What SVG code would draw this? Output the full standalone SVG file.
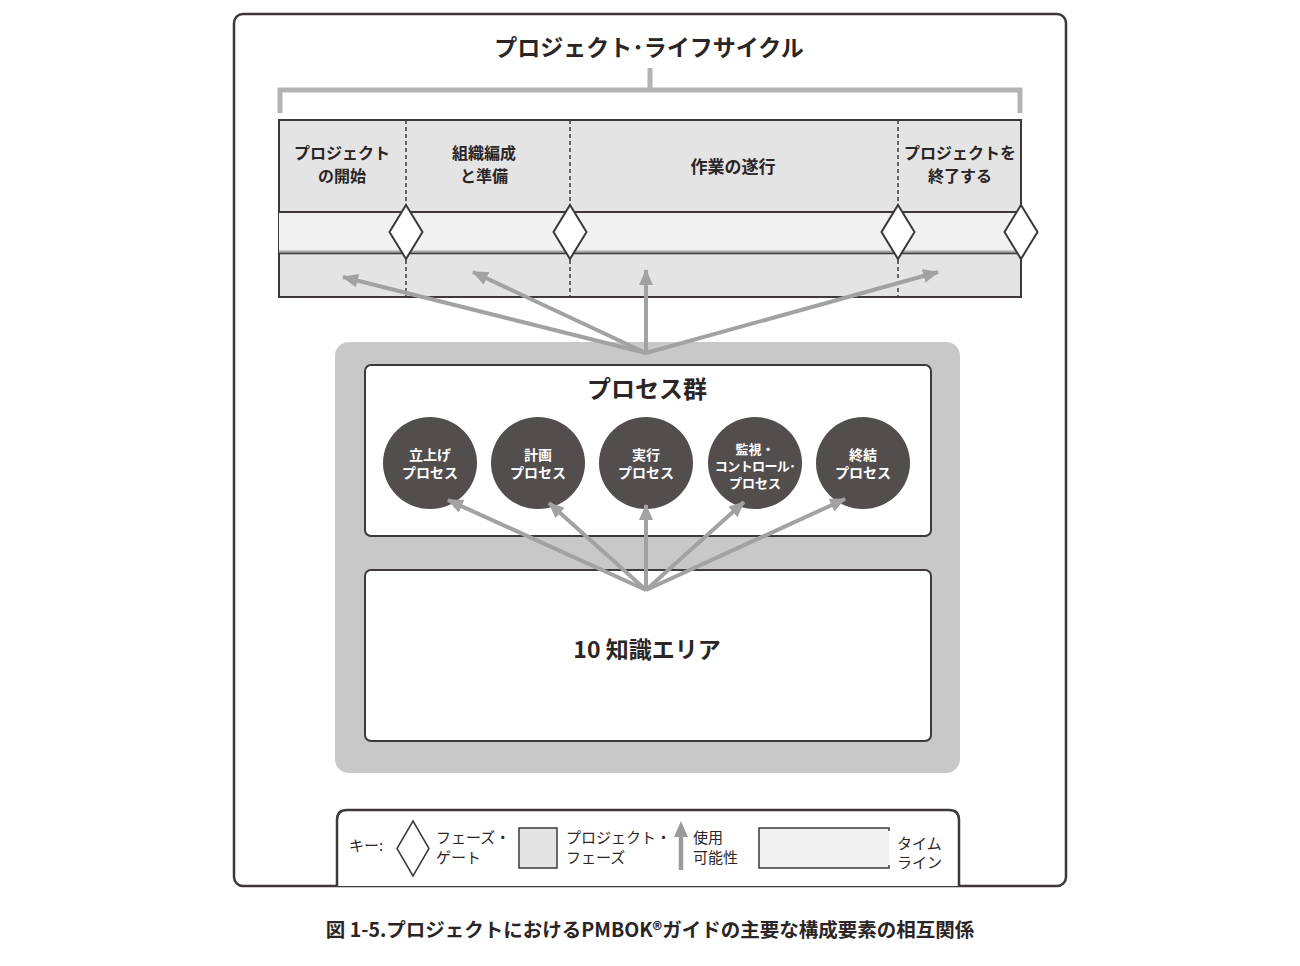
<svg xmlns="http://www.w3.org/2000/svg" width="1300" height="966" viewBox="0 0 1300 966">
<defs>
<marker id="ah" viewBox="0 0 16 14" refX="15" refY="7" markerWidth="16" markerHeight="14" markerUnits="userSpaceOnUse" orient="auto">
<path d="M0,0 L16,7 L0,14 Z" fill="#a2a2a2"/>
</marker>
<style>
text{font-family:"Noto Sans CJK JP","Noto Sans",sans-serif;font-weight:bold;fill:#2b2525;text-anchor:middle}
.dark{stroke:#3e3838;stroke-width:2;fill:none}
.dash{stroke:#3e3838;stroke-width:1.5;stroke-dasharray:4 3;fill:none}
.gate{fill:#ffffff;stroke:#3e3838;stroke-width:2}
.arr{stroke:#a2a2a2;stroke-width:4;fill:none;marker-end:url(#ah)}
.ph{font-size:16px}
.ct{font-size:14px;fill:#ffffff}
.lg{font-size:15px;text-anchor:start;font-weight:normal}
.circ{fill:#534e4e}
</style>
</defs>
<rect width="1300" height="966" fill="#ffffff"/>
<!-- outer frame -->
<rect x="234" y="14" width="832" height="872" rx="9" fill="#ffffff" stroke="#3e3838" stroke-width="2.5"/>
<g id="title">
<text x="649" y="56" style="font-size:23px">プロジェクト･ライフサイクル</text>
<path d="M280,113 L280,90 L1020,90 L1020,113 M650,90 L650,68" stroke="#b3b3b3" stroke-width="5" fill="none"/>
</g>
<g id="lifecycle">
<rect x="279" y="120" width="742" height="177" fill="#e4e4e4" stroke="#3e3838" stroke-width="2"/>
<rect x="279" y="212" width="742" height="40" fill="#f1f1f1"/>
<line x1="279" y1="212" x2="1021" y2="212" class="dark"/>
<line x1="279" y1="252" x2="1021" y2="252" stroke="#a8a8a8" stroke-width="3"/>
<line x1="279" y1="253.5" x2="1021" y2="253.5" stroke="#3e3838" stroke-width="1.5"/>
<line x1="406" y1="120" x2="406" y2="297" class="dash"/>
<line x1="570" y1="120" x2="570" y2="297" class="dash"/>
<line x1="898" y1="120" x2="898" y2="297" class="dash"/>
</g>
<g id="phase1"><text class="ph" x="342" y="159">プロジェクト</text><text class="ph" x="342" y="182">の開始</text></g>
<g id="phase2"><text class="ph" x="484" y="159">組織編成</text><text class="ph" x="484" y="182">と準備</text></g>
<g id="phase3"><text class="ph" x="733" y="173" style="font-size:17px">作業の遂行</text></g>
<g id="phase4"><text class="ph" x="960" y="159">プロジェクトを</text><text class="ph" x="960" y="182">終了する</text></g>
<g id="gates">
<path class="gate" d="M406,205 L422.5,232 L406,259 L389.5,232 Z"/>
<path class="gate" d="M570,205 L586.5,232 L570,259 L553.5,232 Z"/>
<path class="gate" d="M898,205 L914.5,232 L898,259 L881.5,232 Z"/>
<path class="gate" d="M1021,205 L1037.5,232 L1021,259 L1004.5,232 Z"/>
</g>
<g id="container">
<rect x="335" y="342" width="625" height="431" rx="14" fill="#c8c8c8"/>
</g>
<g id="process-groups">
<rect x="365" y="365" width="566" height="171" rx="6" fill="#ffffff" stroke="#3e3838" stroke-width="2"/>
<text x="647" y="398" style="font-size:24px">プロセス群</text>
</g>
<g id="pg1"><ellipse class="circ" cx="430" cy="463" rx="47" ry="46"/><text class="ct" x="430" y="460">立上げ</text><text class="ct" x="430" y="478">プロセス</text></g>
<g id="pg2"><ellipse class="circ" cx="538" cy="463" rx="47" ry="46"/><text class="ct" x="538" y="460">計画</text><text class="ct" x="538" y="478">プロセス</text></g>
<g id="pg3"><ellipse class="circ" cx="646" cy="463" rx="47" ry="46"/><text class="ct" x="646" y="460">実行</text><text class="ct" x="646" y="478">プロセス</text></g>
<g id="pg4"><ellipse class="circ" cx="755" cy="463" rx="47" ry="46"/><text class="ct" x="755" y="454" style="font-size:13px">監視・</text><text class="ct" x="755" y="471" style="font-size:13px;letter-spacing:-0.6px">コントロール･</text><text class="ct" x="755" y="488" style="font-size:13px">プロセス</text></g>
<g id="pg5"><ellipse class="circ" cx="863" cy="463" rx="47" ry="46"/><text class="ct" x="863" y="460">終結</text><text class="ct" x="863" y="478">プロセス</text></g>
<g id="knowledge">
<rect x="365" y="570" width="566" height="171" rx="6" fill="#ffffff" stroke="#3e3838" stroke-width="2"/>
<text x="647" y="658" style="font-size:23px">10 知識エリア</text>
</g>
<g id="connectors">
<line class="arr" x1="646" y1="353" x2="343" y2="277"/>
<line class="arr" x1="646" y1="353" x2="473" y2="272"/>
<line class="arr" x1="646" y1="353" x2="646" y2="270"/>
<line class="arr" x1="646" y1="353" x2="938" y2="272"/>
<line class="arr" x1="646" y1="590" x2="448" y2="500"/>
<line class="arr" x1="646" y1="590" x2="549" y2="503"/>
<line class="arr" x1="646" y1="590" x2="646" y2="505"/>
<line class="arr" x1="646" y1="590" x2="744" y2="502"/>
<line class="arr" x1="646" y1="590" x2="845" y2="499"/>
</g>
<g id="legend">
<path d="M337,886 L337,820 Q337,810 347,810 L949,810 Q959,810 959,820 L959,886" fill="#ffffff" stroke="#3e3838" stroke-width="2.5"/>
<text class="lg" x="349" y="851">キー:</text>
<path d="M413,821 L429,848.5 L413,876 L397,848.5 Z" fill="#ffffff" stroke="#3e3838" stroke-width="1.5"/>
<text class="lg" x="436" y="843">フェーズ・</text>
<text class="lg" x="436" y="863">ゲート</text>
<rect x="519" y="828" width="38" height="40" fill="#e4e4e4" stroke="#3e3838" stroke-width="1.5"/>
<text class="lg" x="566" y="843">プロジェクト・</text>
<text class="lg" x="566" y="863">フェーズ</text>
<line x1="681" y1="870" x2="681" y2="836" stroke="#9a9a9a" stroke-width="4.5"/>
<path d="M681,821 L688,837 L674,837 Z" fill="#9a9a9a"/>
<text class="lg" x="693" y="843">使用</text>
<text class="lg" x="693" y="863">可能性</text>
<rect x="759" y="828" width="130" height="40" fill="#f1f1f1"/>
<path d="M889,831 L889,828 L759,828 L759,868 L889,868 L889,865" fill="none" stroke="#3e3838" stroke-width="1.5"/>
<text class="lg" x="897" y="849">タイム</text>
<text class="lg" x="897" y="868">ライン</text>
</g>
<g id="caption">
<text x="650" y="937" style="font-size:19.5px">図 1-5.プロジェクトにおけるPMBOK®ガイドの主要な構成要素の相互関係</text>
</g>
</svg>
